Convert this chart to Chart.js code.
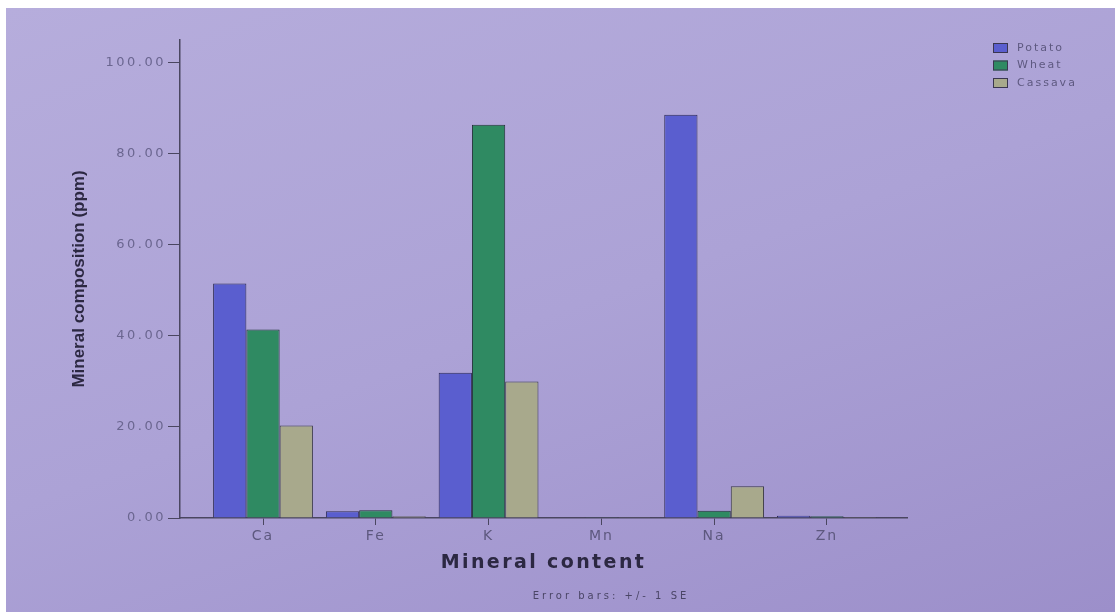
<!DOCTYPE html>
<html>
<head>
<meta charset="utf-8">
<script src="https://cdn.jsdelivr.net/npm/chart.js@4"></script>
<style>
  html, body { margin: 0; padding: 0; background: #fff; }
  #wrap {
    position: absolute; left: 6px; top: 8px; width: 1109px; height: 604px;
    background: linear-gradient(160deg, #b6addc 0%, #aca2d6 50%, #9c8fca 100%);
  }
</style>
</head>
<body>
<div id="wrap"><canvas id="mineralChart"></canvas></div>
<script>
const minerals = ["Ca", "Fe", "K", "Mn", "Na", "Zn"];
const potato = [51.5, 1.5, 31.9, 0.1, 88.6, 0.5];
const wheat = [41.4, 1.7, 86.4, 0.05, 1.6, 0.4];
const cassava = [20.3, 0.4, 30.0, 0.05, 7.0, 0.2];
const yTicks = [0, 20, 40, 60, 80, 100];

const toPoints = arr => arr.map((v, i) => ({ x: i, y: v }));

// the photographed SPSS text is spread out, so widen letter spacing per scale part
const spacing = {
  x: { labels: "2px", title: "2.4px" },
  y: { labels: "2.5px", title: "0px" }
};

const spread = {
  id: "spread",
  afterLayout(chart) {
    Object.entries(spacing).forEach(([id, sp]) => {
      const scale = chart.scales[id];
      if (scale._spread) return;
      scale._spread = true;
      const drawLabels = scale.drawLabels;
      const drawTitle = scale.drawTitle;
      scale.drawLabels = function (area) {
        this.ctx.letterSpacing = sp.labels;
        drawLabels.call(this, area);
        this.ctx.letterSpacing = "0px";
      };
      scale.drawTitle = function () {
        this.ctx.letterSpacing = sp.title;
        drawTitle.call(this);
        this.ctx.letterSpacing = "0px";
      };
    });
  }
};

// legend + footnote
const extras = {
  id: "extras",
  afterDraw(chart) {
    const ctx = chart.ctx;
    ctx.save();
    ctx.font = "11px 'DejaVu Sans', sans-serif";
    ctx.letterSpacing = "2px";
    ctx.textBaseline = "middle";
    chart.data.datasets.forEach((ds, i) => {
      const y = 40 + i * 17.5;
      ctx.fillStyle = ds.backgroundColor;
      ctx.fillRect(987, y - 5, 15, 10);
      ctx.strokeStyle = "#3a3650";
      ctx.lineWidth = 1;
      ctx.strokeRect(987.5, y - 4.5, 14, 9);
      ctx.fillStyle = "#5e5980";
      ctx.fillText(ds.label, 1011, y);
    });
    ctx.font = "10px 'DejaVu Sans', sans-serif";
    ctx.letterSpacing = "3px";
    ctx.fillStyle = "#4a4566";
    ctx.textAlign = "center";
    ctx.fillText("Error bars: +/- 1 SE", 605, 588);
    ctx.restore();
  }
};

new Chart(document.getElementById("mineralChart"), {
  type: "bar",
  data: {
    datasets: [
      { label: "Potato", data: toPoints(potato), backgroundColor: "#5a5ecf", borderColor: "#2e2c55", borderWidth: 1 },
      { label: "Wheat", data: toPoints(wheat), backgroundColor: "#2f8a62", borderColor: "#23303a", borderWidth: 1 },
      { label: "Cassava", data: toPoints(cassava), backgroundColor: "#a8a98c", borderColor: "#3b3a45", borderWidth: 1 }
    ]
  },
  options: {
    responsive: true,
    maintainAspectRatio: false,
    animation: false,
    categoryPercentage: 0.885,
    barPercentage: 1,
    layout: { padding: { left: 0, right: 208, top: 32, bottom: 0 } },
    plugins: { legend: { display: false }, tooltip: { enabled: false } },
    scales: {
      x: {
        type: "linear",
        min: -0.736,
        max: 5.71,
        offset: false,
        afterFit: s => { s.height = 94; },
        grid: { offset: false, drawOnChartArea: false, tickLength: 7, color: "#4a4660", tickColor: "#4a4660" },
        border: { color: "#4a4660", width: 1.5 },
        ticks: {
          stepSize: 1,
          includeBounds: false,
          maxRotation: 0,
          autoSkip: false,
          padding: 3,
          color: "#5d587e",
          font: { family: "'DejaVu Sans', sans-serif", size: 14 },
          callback: v => minerals[v] ?? ""
        },
        title: {
          display: true,
          text: "Mineral content",
          color: "#2c2842",
          padding: { top: 0, bottom: 38 },
          font: { family: "'DejaVu Sans', sans-serif", size: 19, weight: "bold" }
        }
      },
      y: {
        min: 0,
        max: 105,
        afterFit: s => { s.width = 174; },
        afterBuildTicks: s => { s.ticks = yTicks.map(v => ({ value: v })); },
        grid: { drawOnChartArea: false, tickLength: 12, color: "#4a4660", tickColor: "#4a4660" },
        border: { color: "#4a4660", width: 1.5 },
        ticks: {
          padding: 2,
          color: "#6b6690",
          font: { family: "'DejaVu Sans', sans-serif", size: 13 },
          callback: v => v.toFixed(2)
        },
        title: {
          display: true,
          text: "Mineral composition (ppm)",
          color: "#2c2842",
          padding: { top: 63, bottom: 0 },
          font: { family: "'Liberation Sans', Arial, sans-serif", size: 17, weight: "bold" }
        }
      }
    }
  },
  plugins: [spread, extras]
});
</script>
</body>
</html>
